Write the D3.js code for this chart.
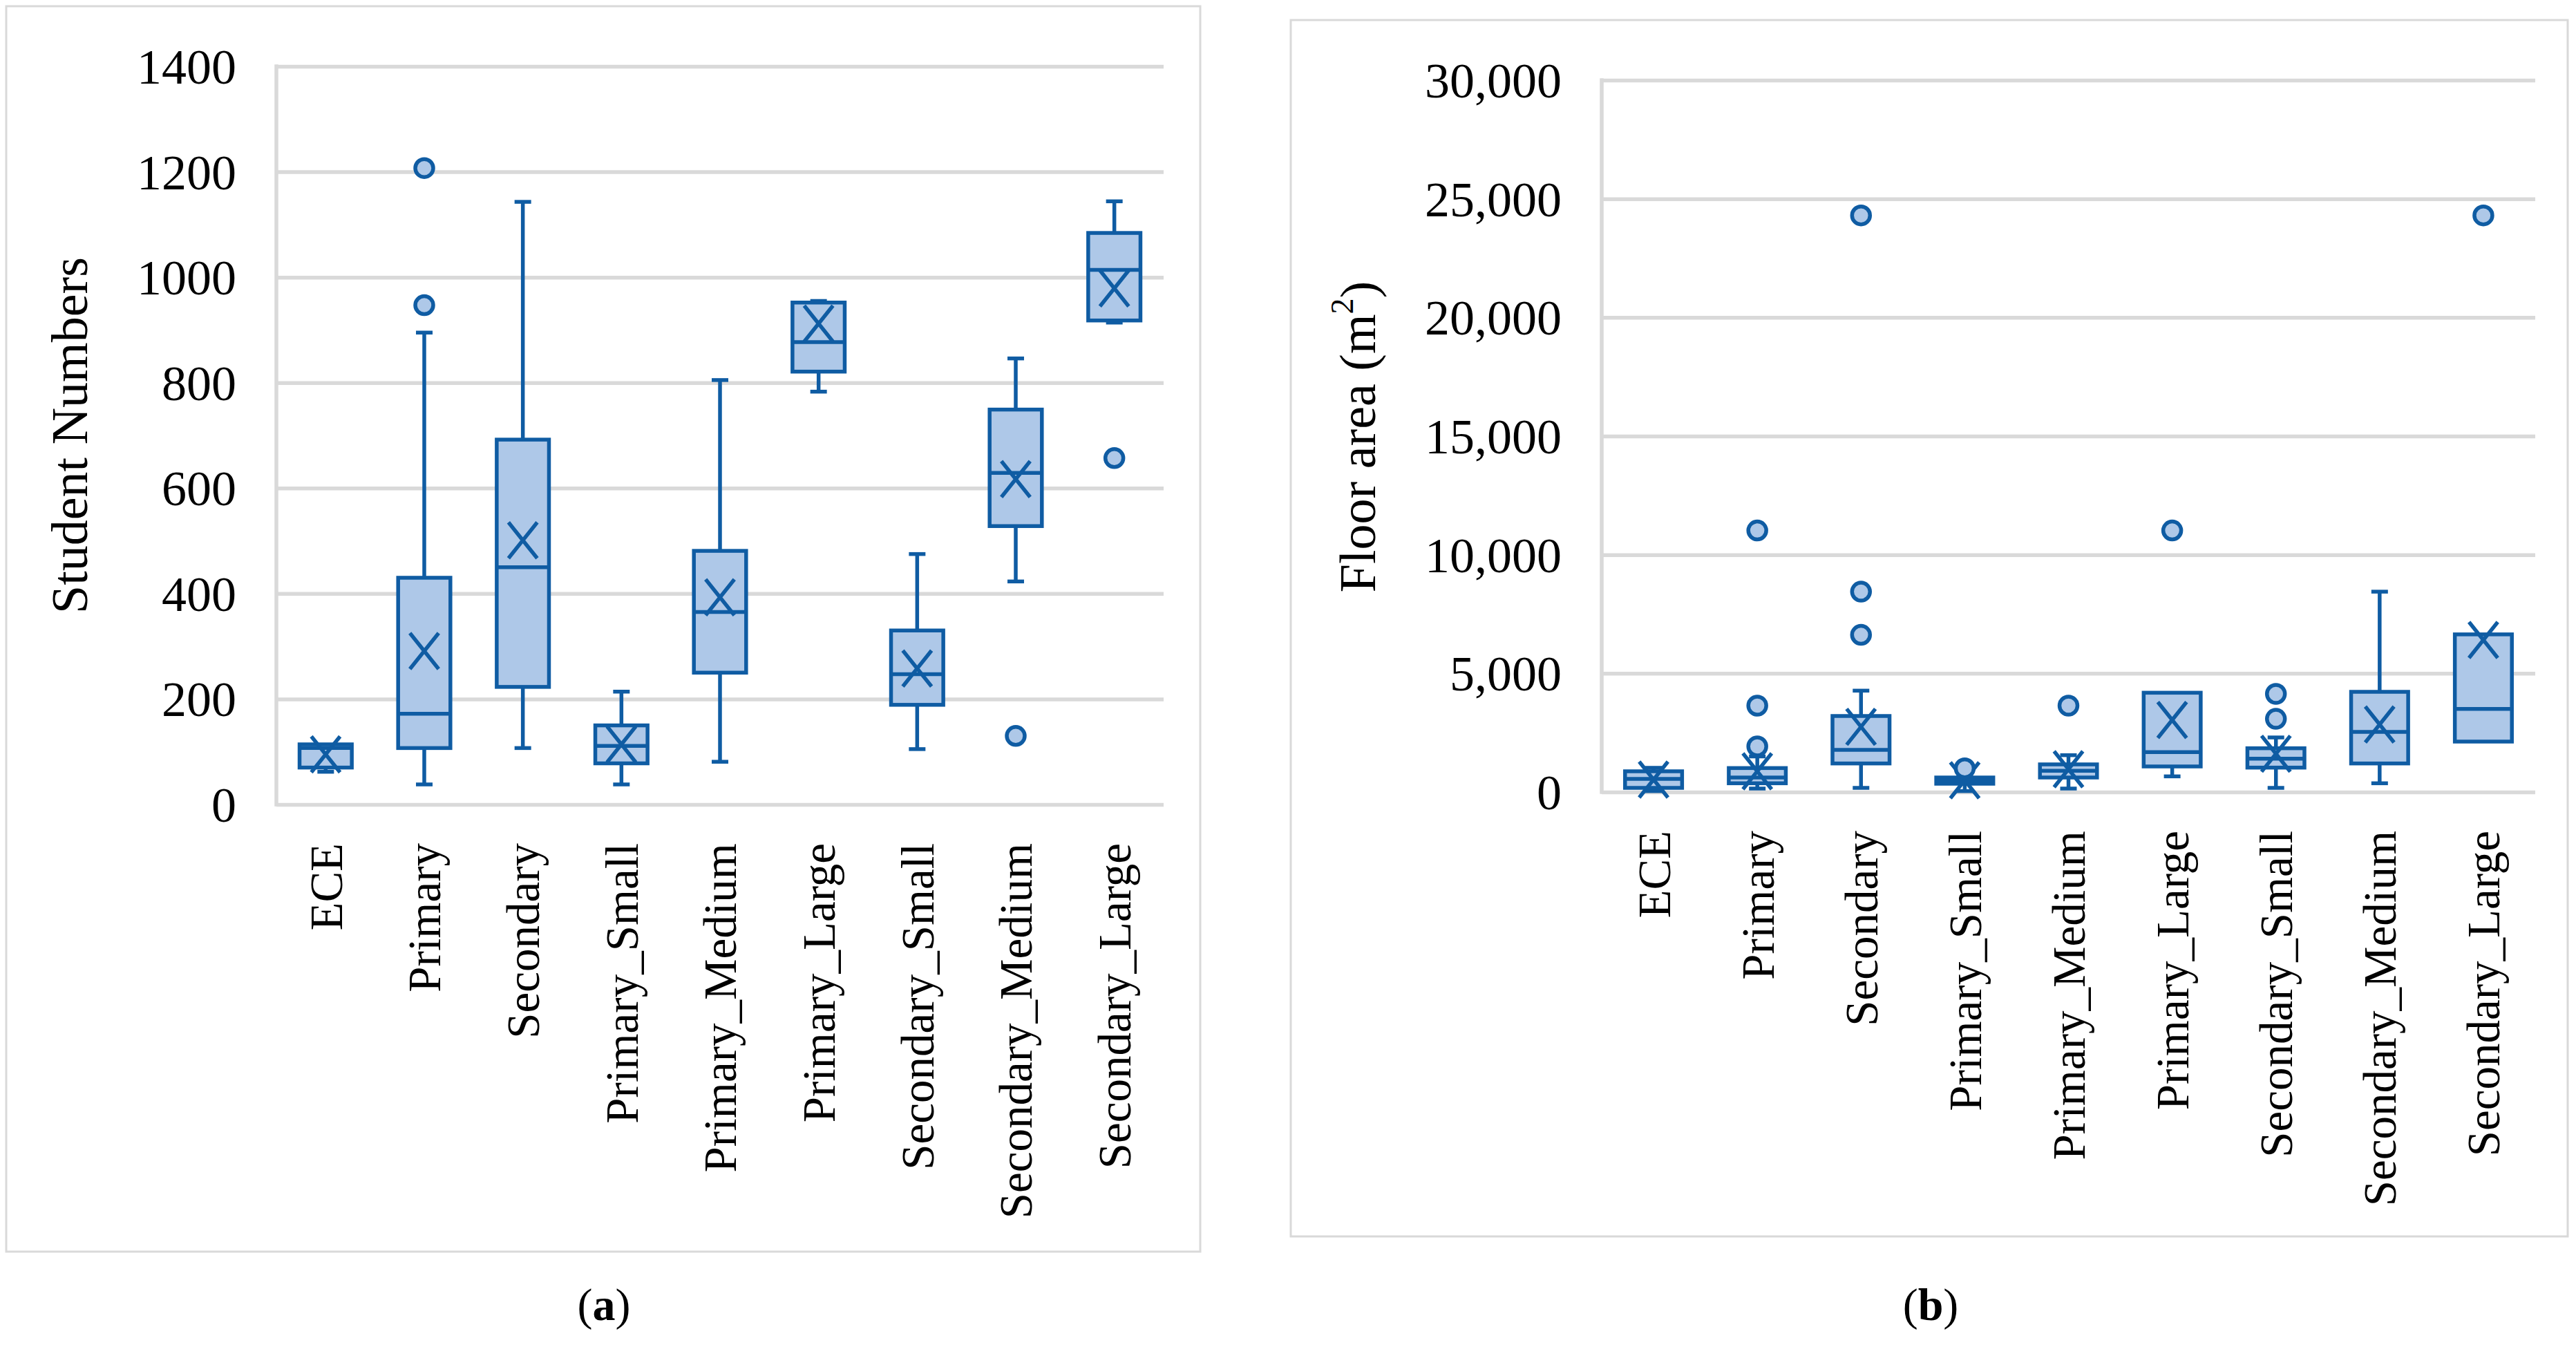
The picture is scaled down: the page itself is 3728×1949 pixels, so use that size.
<html>
    <head>
        <style>
        body {
            margin: 0;
            background: #fff;
        }

        svg {
            display: block;
            font-family: "Liberation Serif", "Times New Roman", serif;
        }

        .grid .tick line {
            stroke: #D9D9D9;
            stroke-width: 5.5;
        }

        .grid .domain {
            display: none;
        }

        .grid .tick text {
            fill: #000;
            font-size: 72px;
            font-family: "Liberation Serif", serif;
        }

        .xlab text {
            font-size: 67px;
            fill: #000;
        }
        </style>
    </head>
    <body>
        <svg width="3728" height="1949"></svg>
        <script src="https://d3js.org/d3.v7.min.js"></script>
        <script>

            let categories = ["ECE", "Primary", "Secondary", "Primary_Small", "Primary_Medium", "Primary_Large", "Secondary_Small", "Secondary_Medium", "Secondary_Large"]

            // (a) student numbers
            let studentMin = [62, 38, 107, 38, 81, 783, 105, 423, 914]
            let studentQ1 = [70, 107, 223, 78, 250, 821, 189, 528, 918]
            let studentMedian = [107, 172, 450, 111, 365, 877, 247, 629, 1014]
            let studentQ3 = [114, 430, 692, 150, 481, 952, 330, 749, 1084]
            let studentMax = [114, 895, 1143, 214, 805, 955, 475, 846, 1144]
            let studentMean = [95, 291, 501, 114, 393, 912, 258, 617, 979]
            let studentOutliers = [[], [947, 1207], [], [], [], [], [], [130], [657]]
            let studentTicks = [0, 200, 400, 600, 800, 1000, 1200, 1400]

            // (b) floor area
            let floorMin = [40, 146, 175, 40, 146, 660, 175, 369, 2126]
            let floorQ1 = [175, 369, 1204, 350, 612, 1078, 1029, 1204, 2126]
            let floorMedian = [553, 612, 1777, 480, 893, 1680, 1408, 2534, 3505]
            let floorQ3 = [874, 1010, 3204, 612, 1165, 4185, 1845, 4223, 6644]
            let floorMax = [1020, 1500, 4272, 720, 1553, 4185, 2300, 8444, 6644]
            let floorMean = [524, 874, 2748, 495, 961, 3039, 1612, 2845, 6410]
            let floorOutliers = [[], [1922, 3641, 11022], [6625, 8444, 24300], [1000], [3641], [11022], [3087, 4136], [], [24300]]
            let floorTicks = [0, 5000, 10000, 15000, 20000, 25000, 30000]

            let blue = "#0F5CA3"
            let lightBlue = "#AEC8E8"
            let sw = 5.5

            let svg = d3.select("svg")

            function drawPanel(p) {
                let g = svg.append("g")

                // panel frame
                g.append("rect")
                    .attr("x", p.frame[0]).attr("y", p.frame[1])
                    .attr("width", p.frame[2] - p.frame[0])
                    .attr("height", p.frame[3] - p.frame[1])
                    .attr("fill", "none")
                    .attr("stroke", "#D9D9D9")
                    .attr("stroke-width", 3)

                let x = d3.scaleBand()
                    .domain(categories)
                    .range([p.left, p.right])
                    .padding(0)

                let y = d3.scaleLinear()
                    .domain([0, p.ticks[p.ticks.length - 1]])
                    .range([p.bottom, p.top])

                let yAxis = g.append("g")
                    .attr("class", "grid")
                    .attr("transform", `translate(${p.left}, 0)`)
                    .call(d3.axisLeft(y)
                        .tickValues(p.ticks)
                        .tickFormat(p.format)
                        .tickSize(-(p.right - p.left))
                        .tickPadding(58))
                yAxis.selectAll(".tick text").attr("dy", "0.34em")

                // y axis line
                g.append("line")
                    .attr("x1", p.left).attr("x2", p.left)
                    .attr("y1", y(p.ticks[p.ticks.length - 1]) - sw / 2)
                    .attr("y2", y(0) + sw / 2)
                    .attr("stroke", "#D9D9D9")
                    .attr("stroke-width", sw)

                let data = categories.map((c, i) => ({
                    c: c,
                    min: p.min[i], q1: p.q1[i], med: p.median[i],
                    q3: p.q3[i], max: p.max[i], mean: p.mean[i],
                    out: p.outliers[i]
                }))

                let bw = x.bandwidth() * p.boxFrac
                let cap = 24
                let cx = d => x(d.c) + x.bandwidth() / 2

                let boxes = g.append("g").selectAll("g")
                    .data(data)
                    .join("g")

                // whiskers
                boxes.filter(d => d.max > d.q3).append("line")
                    .attr("x1", cx).attr("x2", cx)
                    .attr("y1", d => y(d.q3)).attr("y2", d => y(d.max))
                    .attr("stroke", blue).attr("stroke-width", sw)
                boxes.filter(d => d.max > d.q3).append("line")
                    .attr("x1", d => cx(d) - cap / 2).attr("x2", d => cx(d) + cap / 2)
                    .attr("y1", d => y(d.max)).attr("y2", d => y(d.max))
                    .attr("stroke", blue).attr("stroke-width", sw)
                boxes.filter(d => d.min < d.q1).append("line")
                    .attr("x1", cx).attr("x2", cx)
                    .attr("y1", d => y(d.q1)).attr("y2", d => y(d.min))
                    .attr("stroke", blue).attr("stroke-width", sw)
                boxes.filter(d => d.min < d.q1).append("line")
                    .attr("x1", d => cx(d) - cap / 2).attr("x2", d => cx(d) + cap / 2)
                    .attr("y1", d => y(d.min)).attr("y2", d => y(d.min))
                    .attr("stroke", blue).attr("stroke-width", sw)

                // box
                boxes.append("rect")
                    .attr("x", d => cx(d) - bw / 2)
                    .attr("width", bw)
                    .attr("y", d => y(d.q3))
                    .attr("height", d => y(d.q1) - y(d.q3))
                    .attr("fill", lightBlue)
                    .attr("stroke", blue)
                    .attr("stroke-width", sw)

                // median
                boxes.append("line")
                    .attr("x1", d => cx(d) - bw / 2).attr("x2", d => cx(d) + bw / 2)
                    .attr("y1", d => y(d.med)).attr("y2", d => y(d.med))
                    .attr("stroke", blue).attr("stroke-width", sw)

                // mean marker (x)
                let m = 26
                boxes.append("path")
                    .attr("d", d => {
                        let px = cx(d), py = y(d.mean)
                        return `M${px - m * 0.8},${py - m}L${px + m * 0.8},${py + m}M${px + m * 0.8},${py - m}L${px - m * 0.8},${py + m}`
                    })
                    .attr("fill", "none")
                    .attr("stroke", blue).attr("stroke-width", sw)

                // outliers
                boxes.selectAll("circle")
                    .data(d => d.out.map(v => ({ c: d.c, v: v })))
                    .join("circle")
                    .attr("cx", cx)
                    .attr("cy", d => y(d.v))
                    .attr("r", 13)
                    .attr("fill", lightBlue)
                    .attr("stroke", blue)
                    .attr("stroke-width", sw)

                // category labels
                g.append("g")
                    .attr("class", "xlab")
                    .selectAll("text")
                    .data(categories)
                    .join("text")
                    .attr("transform", d => `translate(${x(d) + x.bandwidth() / 2}, ${p.labelTop}) rotate(-90)`)
                    .attr("text-anchor", "end")
                    .attr("dy", "0.35em")
                    .text(d => d)

                // y title
                let t = g.append("text")
                    .attr("transform", `translate(${p.titleX}, ${p.titleY}) rotate(-90)`)
                    .attr("text-anchor", "middle")
                    .attr("dy", "0.35em")
                    .style("font-size", "74px")
                t.append("tspan").text(p.title)
                if (p.sup) {
                    t.append("tspan").text(p.sup)
                        .style("font-size", "46px")
                        .attr("dy", "-0.7em")
                    t.append("tspan").text(")")
                        .attr("dy", "0.45em")
                }

                // panel letter
                let lab = g.append("text")
                    .attr("x", p.letterX).attr("y", 1910)
                    .attr("text-anchor", "middle")
                    .style("font-size", "66px")
                lab.append("tspan").text("(")
                lab.append("tspan").text(p.letter).style("font-weight", "bold")
                lab.append("tspan").text(")")
            }

            drawPanel({
                frame: [9, 9, 1737, 1811],
                left: 400, right: 1684, top: 96, bottom: 1164,
                ticks: studentTicks, format: d3.format("d"),
                min: studentMin, q1: studentQ1, median: studentMedian, q3: studentQ3,
                max: studentMax, mean: studentMean, outliers: studentOutliers,
                boxFrac: 0.53, labelTop: 1220,
                title: "Student Numbers", titleX: 100, titleY: 630,
                letter: "a", letterX: 874
            })

            drawPanel({
                frame: [1868, 29, 3716, 1789],
                left: 2318, right: 3669, top: 116, bottom: 1146,
                ticks: floorTicks, format: d3.format(","),
                min: floorMin, q1: floorQ1, median: floorMedian, q3: floorQ3,
                max: floorMax, mean: floorMean, outliers: floorOutliers,
                boxFrac: 0.55, labelTop: 1202,
                title: "Floor area (m", sup: "2", titleX: 1964, titleY: 632,
                letter: "b", letterX: 2794
            })

        </script>
    </body>
</html>
